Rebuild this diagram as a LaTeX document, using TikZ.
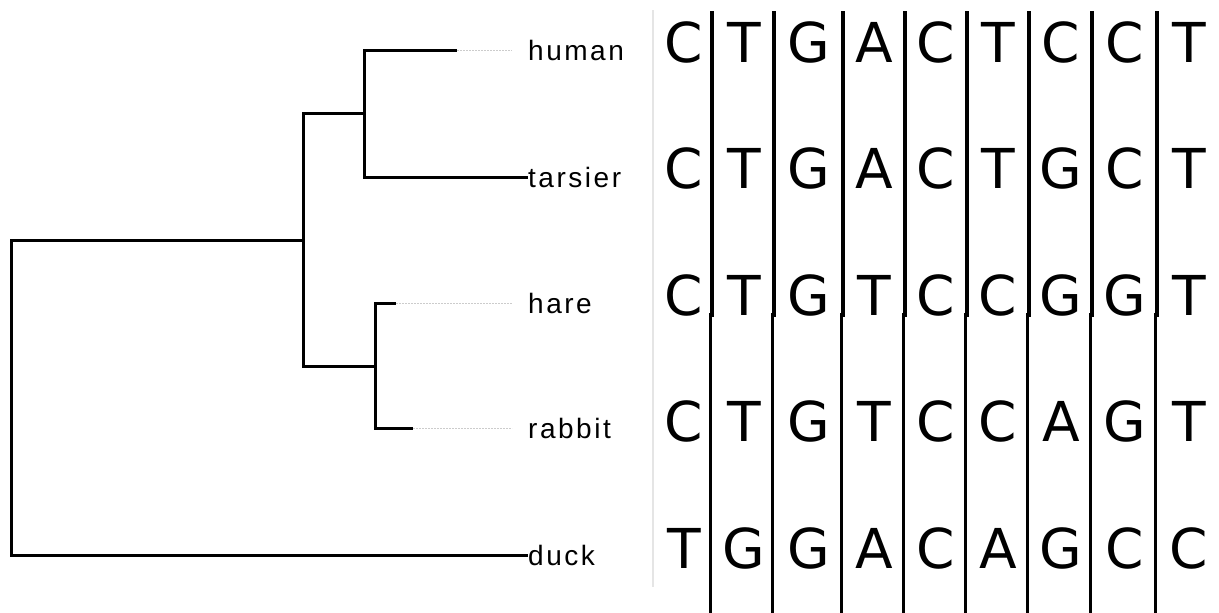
\documentclass[tikz,border=0pt]{standalone}
\usepackage{fontspec}
\setmainfont{Liberation Sans}
\newfontfamily\leaffont[LetterSpace=9]{Liberation Sans}
\newfontfamily\basefont{DejaVu Sans}

\begin{document}
\begin{tikzpicture}[x=1pt,y=-1pt,
    branch/.style={line width=3pt},
    tail/.style={gray!40,line width=0.8pt,dash pattern=on 2pt off 1pt},
    leaf/.style={anchor=west,inner sep=0pt,font=\leaffont\fontsize{28}{32}\selectfont},
    base/.style={anchor=base,inner sep=0pt,font=\basefont\fontsize{55}{60}\selectfont},
    bar/.style={line width=3.5pt}]
\useasboundingbox (0,0) rectangle (1219,613);

% tree
\coordinate (root) at (11,397);
\coordinate (euarch) at (303,240);
\coordinate (prim) at (364,113);
\coordinate (lago) at (375,366);
\node[leaf] (human) at (528,50) {human};
\node[leaf] (tarsier) at (528,177) {tarsier};
\node[leaf] (hare) at (528,303) {hare};
\node[leaf] (rabbit) at (528,428) {rabbit};
\node[leaf] (duck) at (528,555) {duck};
\coordinate (human end) at (457,50);
\coordinate (human tip) at (512,50);
\coordinate (hare end) at (396,303);
\coordinate (hare tip) at (512,303);
\coordinate (rabbit end) at (413,428);
\coordinate (rabbit tip) at (512,428);
\draw[branch] (root) |- (euarch) (root) |- (duck)
    (euarch) |- (prim) (euarch) |- (lago)
    (prim) |- (human end) (prim) |- (tarsier)
    (lago) |- (hare end) (lago) |- (rabbit end);
\draw[tail] (human end) -- (human tip);
\draw[tail] (hare end) -- (hare tip);
\draw[tail] (rabbit end) -- (rabbit tip);

% alignment
\draw[gray!20,line width=2pt] (653,10) -- (653,587);
\foreach \x in {712,774,843,905,967,1029,1092,1157}
    \draw[bar] (\x,11) -- (\x,315) -- (\x-1.5,315) -- (\x-1.5,613);
\foreach \seq [count=\r] in {{C,T,G,A,C,T,C,C,T},{C,T,G,A,C,T,G,C,T},{C,T,G,T,C,C,G,G,T},{C,T,G,T,C,C,A,G,T},{T,G,G,A,C,A,G,C,C}}
    \foreach \b [count=\c] in \seq {
        \pgfmathsetmacro\cx{{684,744,809,874,936,998,1061,1125,1189}[\c-1]}
        \node[base] (b\r-\c) at (\cx,{62+(\r-1)*126.5}) {\b};
    }
\end{tikzpicture}
\end{document}
